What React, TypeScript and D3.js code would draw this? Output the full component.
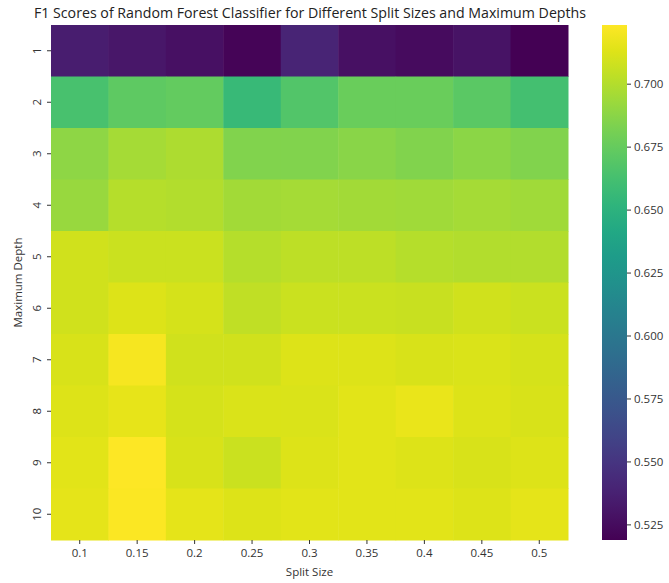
import React, { useEffect, useRef } from "react";
import * as d3 from "d3";

const splitSizes = ["0.1", "0.15", "0.2", "0.25", "0.3", "0.35", "0.4", "0.45", "0.5"];
const depths = ["1", "2", "3", "4", "5", "6", "7", "8", "9", "10"];

const row1 = [0.535, 0.531, 0.527, 0.521, 0.539, 0.527, 0.525, 0.529, 0.519];
const row2 = [0.664, 0.673, 0.674, 0.657, 0.668, 0.677, 0.677, 0.671, 0.662];
const row3 = [0.689, 0.696, 0.698, 0.685, 0.685, 0.687, 0.685, 0.688, 0.685];
const row4 = [0.692, 0.701, 0.700, 0.695, 0.696, 0.695, 0.694, 0.696, 0.694];
const row5 = [0.709, 0.707, 0.707, 0.701, 0.703, 0.703, 0.701, 0.700, 0.700];
const row6 = [0.709, 0.713, 0.710, 0.704, 0.707, 0.707, 0.706, 0.709, 0.707];
const row7 = [0.711, 0.721, 0.709, 0.709, 0.713, 0.713, 0.711, 0.712, 0.710];
const row8 = [0.713, 0.716, 0.710, 0.712, 0.712, 0.714, 0.717, 0.713, 0.711];
const row9 = [0.714, 0.7235, 0.711, 0.707, 0.713, 0.714, 0.713, 0.711, 0.713];
const row10 = [0.715, 0.722, 0.715, 0.713, 0.714, 0.714, 0.714, 0.713, 0.715];
const scores = [row1, row2, row3, row4, row5, row6, row7, row8, row9, row10];

const colorbarTicks = [0.525, 0.55, 0.575, 0.6, 0.625, 0.65, 0.675, 0.7];

const W = 669;
const H = 583;
const FONT = "'Open Sans', 'DejaVu Sans', sans-serif";
const TEXT = "#333";

export default function App() {
  const ref = useRef<SVGSVGElement | null>(null);

  useEffect(() => {
    const svg = d3.select(ref.current);
    svg.selectAll("*").remove();

    const left = 51, right = 568, top = 25, bottom = 540;
    const x = d3.scaleBand().domain(splitSizes).range([left, right]);
    const y = d3.scaleBand().domain(depths).range([top, bottom]);
    const all = scores.flat();
    const vmin = d3.min(all) as number;
    const vmax = d3.max(all) as number;
    const color = d3.scaleSequential(d3.interpolateViridis).domain([vmin, vmax]);

    const cells: any[] = [];
    scores.forEach((row, i) => row.forEach((v, j) => cells.push({ d: depths[i], s: splitSizes[j], v })));

    svg.append("g").selectAll("rect").data(cells).join("rect")
      .attr("x", (c: any) => x(c.s) as number)
      .attr("y", (c: any) => y(c.d) as number)
      .attr("width", x.bandwidth() + 0.5)
      .attr("height", y.bandwidth() + 0.5)
      .attr("fill", (c: any) => color(c.v));

    // X axis
    const xg = svg.append("g");
    splitSizes.forEach((s) => {
      const cx = (x(s) as number) + x.bandwidth() / 2;
      xg.append("line").attr("x1", cx).attr("x2", cx).attr("y1", bottom).attr("y2", bottom + 4)
        .attr("stroke", TEXT).attr("stroke-width", 1);
      xg.append("text").attr("x", cx).attr("y", bottom + 17).attr("text-anchor", "middle")
        .attr("font-size", 11.5).attr("font-family", FONT).attr("fill", TEXT).text(s);
    });
    svg.append("text").attr("x", (left + right) / 2).attr("y", 576).attr("text-anchor", "middle")
      .attr("font-size", 11.5).attr("font-family", FONT).attr("fill", TEXT).text("Split Size");

    // Y axis
    const yg = svg.append("g");
    depths.forEach((d) => {
      const cy = (y(d) as number) + y.bandwidth() / 2;
      yg.append("line").attr("x1", left - 4).attr("x2", left).attr("y1", cy).attr("y2", cy)
        .attr("stroke", TEXT).attr("stroke-width", 1);
      yg.append("text").attr("transform", `translate(${left - 10},${cy}) rotate(-90)`)
        .attr("text-anchor", "middle").attr("font-size", 11.5).attr("font-family", FONT).attr("fill", TEXT).text(d);
    });
    svg.append("text").attr("transform", `translate(22,${(top + bottom) / 2}) rotate(-90)`)
      .attr("text-anchor", "middle").attr("font-size", 11.5).attr("font-family", FONT).attr("fill", TEXT)
      .text("Maximum Depth");

    // Title
    svg.append("text").attr("x", 310).attr("y", 18).attr("text-anchor", "middle")
      .attr("font-size", 14.2).attr("font-family", FONT).attr("fill", "#222")
      .text("F1 Scores of Random Forest Classifier for Different Split Sizes and Maximum Depths");

    // Colorbar
    const cbx = 602, cbw = 25;
    const cy = d3.scaleLinear().domain([vmin, vmax]).range([bottom, top]);
    const defs = svg.append("defs");
    const grad = defs.append("linearGradient").attr("id", "cbgrad")
      .attr("x1", 0).attr("x2", 0).attr("y1", 1).attr("y2", 0);
    d3.range(0, 1.0001, 0.05).forEach((t) => {
      grad.append("stop").attr("offset", t).attr("stop-color", d3.interpolateViridis(t));
    });
    svg.append("rect").attr("x", cbx).attr("y", top).attr("width", cbw).attr("height", bottom - top)
      .attr("fill", "url(#cbgrad)");
    const cg = svg.append("g");
    colorbarTicks.forEach((t) => {
      const ty = cy(t);
      cg.append("line").attr("x1", cbx + cbw).attr("x2", cbx + cbw + 4).attr("y1", ty).attr("y2", ty)
        .attr("stroke", TEXT).attr("stroke-width", 1);
      cg.append("text").attr("x", cbx + cbw + 7).attr("y", ty).attr("dy", "0.35em")
        .attr("font-size", 11.5).attr("font-family", FONT).attr("fill", TEXT).text(d3.format(".3f")(t));
    });
  }, []);

  return (
    <svg ref={ref} width={W} height={H}
      style={{ position: "absolute", left: 0, top: 0, background: "#fff" }} />
  );
}
